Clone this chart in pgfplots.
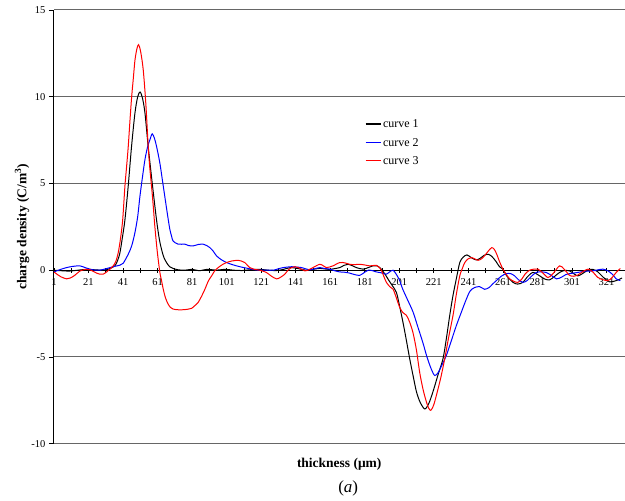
\documentclass[border=0pt]{standalone}
\usepackage{pgfplots}
\pgfplotsset{compat=1.18}
\usepackage{fontspec}
\setmainfont{Liberation Serif}

% charge density profiles across the sample thickness
\pgfplotstableread{
x y
1 0
5 -0.03
10 -0.05
15 0
20 0.05
25 0.02
30 0.0
33 0.08
36.3 0.25
38 0.6
39.2 1.0
40.5 1.8
42.1 2.9
44 4.85
45.9 7.1
47.9 9.06
49.5 10.0
50.9 10.27
52.3 9.9
53.7 9.06
55.6 7.1
58.1 4.85
60.4 2.9
62 1.8
63.3 1.2
64.6 0.75
66.2 0.44
68 0.2
70 0.1
73 0.02
77 0.0
81 0.05
85 -0.03
90 0.05
95 0.0
100 0.05
105 0.0
110 -0.02
115 0.03
120 0.05
125 0
130 -0.02
134 0.05
138 0.15
142 0.1
147 0
151 0.05
155 0.1
160 0.05
163 0.08
166.5 0.15
169 0.28
171.3 0.34
174 0.25
176.1 0.15
180 0.06
183 0.15
185.8 0.25
188 0.25
190 0.12
192.5 -0.2
195 -0.6
197 -0.9
199.3 -1.28
201 -2.0
203.1 -3.0
205 -4.0
207 -5.1
209 -6.1
210.9 -7.0
213 -7.6
215.7 -8.0
218 -7.7
220.5 -7.0
223.5 -6.0
226.3 -5.1
228.3 -3.9
230.2 -2.6
232 -1.5
234 -0.5
236 0.44
238 0.75
240.2 0.88
243 0.7
245.6 0.59
248 0.7
250 0.85
252.3 0.92
254.5 0.8
257 0.5
259 0.2
261 0.06
263 -0.3
266.8 -0.7
269.5 -0.8
272.6 -0.7
275 -0.4
278.4 -0.13
282.3 -0.33
285 -0.5
288 -0.56
291 -0.35
293.8 -0.13
296.5 -0.02
299.6 -0.04
302 -0.2
304.4 -0.33
307 -0.2
310.2 0.0
313 0.05
316 -0.1
319 -0.4
322.8 -0.67
326.6 -0.6
330 -0.45
}\curveone

\pgfplotstableread{
x y
1 -0.1
5 0.05
8.3 0.15
12 0.22
16 0.25
19 0.15
21.8 0.06
25 0.0
27.6 0.0
31 0.08
35.3 0.2
39.2 0.29
41.1 0.4
44 0.92
46 1.4
47.9 2.17
49.5 3.1
50.8 4.27
52.3 5.4
53.7 6.38
55.2 7.1
56.6 7.53
57.9 7.86
59.2 7.6
60.4 7.14
62.3 6.19
64.3 4.85
66.6 3.3
68.1 2.36
69.1 1.97
70 1.68
72.9 1.5
76.8 1.5
79 1.42
81.6 1.4
84.5 1.48
87.4 1.5
89.5 1.42
91.3 1.3
93.2 1.1
95.2 0.82
98 0.6
101 0.44
104 0.33
106.7 0.25
110 0.17
113.4 0.1
117 0.03
120 0.0
124 0.0
128 0.0
131 0.08
133.8 0.15
138.6 0.2
141.5 0.18
144.4 0.15
147 0.07
149.1 0.02
152 0.08
154.9 0.15
157.5 0.1
160.7 0.06
163.5 -0.03
166.5 -0.1
169.5 -0.12
172.3 -0.17
175 -0.25
178 -0.3
180.5 -0.15
183 0
185.5 -0.03
187.7 -0.1
190.5 -0.15
193.5 -0.23
196 -0.05
197.4 0.0
199 -0.2
201 -0.55
203 -1.1
205.5 -1.65
208.9 -2.4
211.5 -3.2
214.7 -4.2
217 -5.0
219.5 -5.7
221.5 -6.07
223.5 -5.9
226 -5.4
228.3 -4.9
231 -4.1
234 -3.2
237 -2.4
239.8 -1.67
242 -1.2
244.6 -1.0
247.5 -0.95
250.4 -1.1
253 -1.0
255 -0.8
257.2 -0.6
260 -0.35
263 -0.2
265.5 -0.2
267.8 -0.33
270 -0.55
272.6 -0.7
275 -0.6
277.5 -0.35
280.3 -0.13
283 -0.1
286 -0.13
289 -0.3
292 -0.5
295 -0.4
297.5 -0.25
299.6 -0.2
303 -0.15
306 -0.1
309 -0.05
312 -0.05
315 0.0
318.9 0.06
322 -0.05
324.5 -0.25
326.6 -0.5
329 -0.6
}\curvetwo

\pgfplotstableread{
x y
1 -0.1
3 -0.25
5 -0.38
8.3 -0.5
10.5 -0.45
13 -0.3
16 -0.05
18 0.02
20 0.05
22 0.02
24 -0.08
25.7 -0.17
27.5 -0.23
29.5 -0.23
31.5 -0.1
33.4 0.06
35.3 0.25
36.8 0.5
38.2 1.0
39.5 1.8
40.8 2.9
42.1 4.85
43 5.9
44 7.1
45 8.6
46 10.0
47 11.1
47.9 12.1
49 12.75
50 13.0
51.2 12.6
52.7 11.55
54.2 9.6
55.6 7.1
56.5 5.9
57.5 4.85
58.5 3.7
59.4 2.55
60.8 1.1
62.3 -0.1
63.3 -0.6
64.3 -1.1
65.6 -1.6
67.1 -1.95
68.5 -2.15
70 -2.24
72.5 -2.28
75.8 -2.28
78.5 -2.25
80.7 -2.2
82.5 -2.05
84.5 -1.86
86.5 -1.5
88.4 -1.1
90.5 -0.6
92.3 -0.33
94 -0.05
96.1 0.15
98.5 0.32
100.9 0.44
104 0.53
107.6 0.57
109.5 0.53
111.5 0.44
114.4 0.15
117 0.05
120.2 0.0
124 -0.13
127 -0.35
129.9 -0.5
132 -0.42
134.7 -0.23
136.5 0
138.6 0.15
140.5 0.2
142.4 0.15
144.5 0.05
146.3 -0.04
148.5 0.02
151 0.15
154.9 0.34
157 0.25
158.8 0.15
160.5 0.18
162.6 0.25
166.5 0.44
169.5 0.42
172.3 0.34
175 0.32
178 0.34
181 0.3
183.9 0.25
187.7 0.28
189.5 0.15
190.6 0.0
192 -0.35
193.5 -0.7
195.5 -0.95
197.4 -1.1
199.3 -1.6
201.2 -2.14
203.1 -2.45
205.1 -2.6
207 -3.0
208.9 -3.6
210.9 -4.6
212.8 -5.9
214.8 -6.9
216.7 -7.6
218 -7.95
219.2 -8.08
220.8 -7.8
222.5 -7.2
225 -6.2
227.3 -5.1
229.7 -3.8
232.1 -2.6
234 -1.4
236 -0.33
237.5 0.1
238.9 0.44
240.8 0.65
242.7 0.73
244.7 0.65
246.6 0.57
248.5 0.65
250.5 0.85
252.5 1.1
254.5 1.3
256 1.2
257.5 0.9
259 0.5
261 0.06
263 -0.25
264.9 -0.5
267.5 -0.65
269.7 -0.7
272 -0.5
274 -0.2
276.5 0.0
279 0.06
281.3 0.06
284 -0.15
287.1 -0.42
290 -0.2
293.8 0.25
296.5 0.05
299.6 -0.3
302 -0.35
304 -0.3
307 -0.1
310.2 0.06
313 -0.1
316 -0.42
319 -0.55
321.8 -0.6
324 -0.45
326.6 -0.13
329 0.1
}\curvethree

\begin{document}
\begin{tikzpicture}
\begin{axis}[
  at={(0pt,0pt)}, anchor=south west,
  scale only axis,
  width=571pt, height=434pt,
  xmin=1, xmax=331.4,
  ymin=-10, ymax=15,
  axis x line=middle,
  axis y line=left,
  axis line style={line width=1pt, -},
  xtick={1,21,...,321},
  minor x tick num=1,
  hide obscured x ticks=false,
  ytick={-10,-5,0,5,10,15},
  ymajorgrids,
  major grid style={black!60, line width=1pt},
  x tick style={black, line width=0.8pt},
  y tick style={black, line width=0.8pt},
  xtick align=center,
  ytick align=outside,
  major tick length=5pt,
  minor tick length=5pt,
  ticklabel style={font=\fontsize{10.5}{12}\selectfont},
  /pgf/number format/assume math mode=true,
  xticklabel style={yshift=-2pt},
  xlabel={\textbf{thickness (μm)}},
  xlabel style={at={(axis description cs:0.5,0)}, anchor=center, yshift=-21pt, font=\fontsize{13.5}{15}\selectfont},
  ylabel={\textbf{charge density (C/m\textsuperscript{3})}},
  ylabel style={at={(axis description cs:-0.056,0.5)}, anchor=center, font=\fontsize{13.5}{15}\selectfont},
  legend style={at={(axis description cs:0.5447,0.752)}, anchor=north west, draw=none, fill=none,
    font=\fontsize{12}{13}\selectfont, inner sep=0pt, row sep=5pt, cells={anchor=west}},
  legend image code/.code={\draw[#1] (0pt,0.5pt) -- (15pt,0.5pt);},
  clip mode=individual,
]
\addplot[black, line width=1pt, smooth, forget plot] table {\curveone};
\addplot[blue, line width=1pt, smooth, forget plot] table {\curvetwo};
\addplot[red, line width=1pt, smooth, forget plot] table {\curvethree};
\addlegendimage{color=black, line width=1.2pt}
\addlegendentry{curve 1}
\addlegendimage{color=blue, line width=1.2pt}
\addlegendentry{curve 2}
\addlegendimage{color=red, line width=1.2pt}
\addlegendentry{curve 3}
\node[font=\fontsize{17}{19}\selectfont] at (axis description cs:0.5,0) [yshift=-45pt, xshift=9pt] {(\textit{a})};
\end{axis}
\path[use as bounding box] (-54pt,-57pt) rectangle (571pt,444pt);
\end{tikzpicture}
\end{document}
